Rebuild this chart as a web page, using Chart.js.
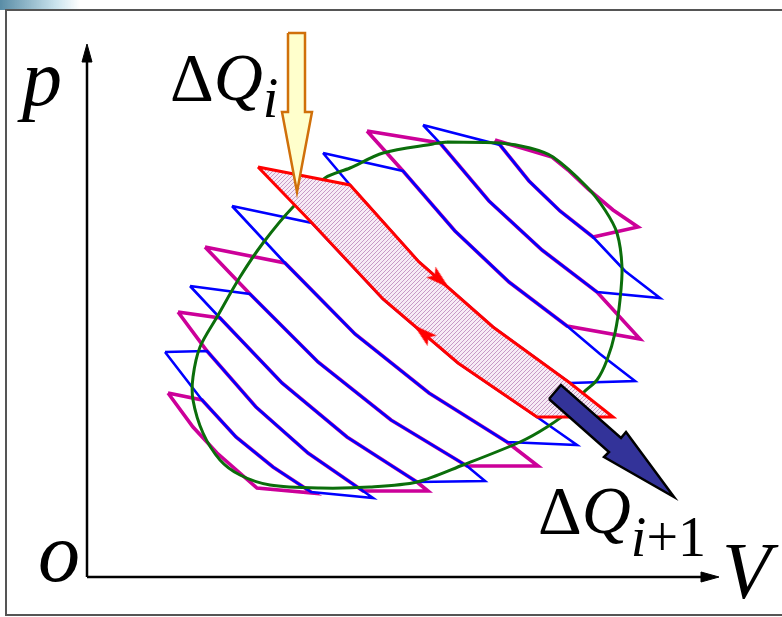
<!DOCTYPE html>
<html>
<head>
<meta charset="utf-8">
<script src="https://cdn.jsdelivr.net/npm/chart.js@4/dist/chart.umd.min.js"></script>
<style>
  body { margin: 0; background: #fff; }
  #wrap { position: relative; width: 782px; height: 617px; overflow: hidden; }
  #frame { position: absolute; left: 5px; top: 9px; width: 800px; height: 603px; border: 2px solid #555; pointer-events: none; }
  #swoosh { position: absolute; left: 0; top: 0; width: 80px; height: 10px;
    background: linear-gradient(90deg, rgba(60,120,150,0.85), rgba(150,200,220,0.5) 70%, rgba(255,255,255,0)); }
  canvas { position: absolute; left: 0; top: 0; }
</style>
</head>
<body>
<div id="wrap">
  <canvas id="myChart" width="782" height="617"></canvas>
  <div id="swoosh"></div>
  <div id="frame"></div>
</div>
<script>
// V is measured from the origin to the right, p upwards (same units as the drawing)

// closed cycle (green)
let cycle = [
  [360,435],[413,434],[443,429],[466,420],[500,390],[518,367],[530,344],[535,310],
  [533,277],[528,244],[520,217],[510,197],[496,184],[483,167],[460,150],[433,135],
  [376,112],[330,95],[283,90],[233,89],[183,92],[153,102],[133,117],[116,144],
  [106,177],[106,200],[113,230],[130,260],[153,300],[176,334],[206,370],[238,399],
  [263,409],[296,424],[346,433],[360,435]
]

// adiabats, each from its upper end down to its lower end
let adiabats = [
  [[81,184],[106,150],[130,124],[170,89]],
  [[78,225],[115,177],[149,140],[186,110],[224,85],[226,84]],
  [[91,265],[120,226],[169,170],[221,124],[276,86],[286,79]],
  [[103,291],[133,259],[195,194],[260,140],[330,95],[341,86]],
  [[118,330],[163,283],[231,215],[304,157],[380,111],[398,96]],
  [[145,371],[198,314],[268,243],[342,184],[420,135],[451,111]],
  [[171,410],[225,354],[296,278],[371,214],[450,160],[490,132]],
  [[236,424],[263,392],[332,315],[406,250],[483,194],[526,160]],
  [[280,446],[316,406],[368,346],[422,295],[480,251],[513,223],[548,196]],
  [[336,452],[353,434],[402,376],[455,327],[510,285],[553,238]],
  [[408,437],[413,432],[442,396],[473,366],[506,340],[538,306],[573,279]],
  [[465,420],[481,407],[501,388],[526,367],[551,350]]
]
// where the upper isotherm of the strip below ends on each adiabat
let upperMeet = [null,1,1,1,1,1,1,1,1,1,1,0]
// where the strip's own lower isotherm leaves each adiabat
let lowerStart = [3,4,4,4,4,4,4,4,4,4,4,null]

// small Carnot cycles, from lower left to upper right
let stripColors = ['#cc0099','#0000ff','#cc0099','#0000ff','#cc0099','#0000ff','#ff0000','#0000ff','#cc0099','#0000ff','#cc0099']
let chosenStrip = 6

// direction arrows on the chosen cycle [V, p, angle]
let cycleArrows = [[353,297,131],[336,244,-49.5]]

// heat arrows
let heatIn = [[201,544],[218,544],[218,465],[225,465],[210,385],[195,465],[201,465],[201,544]]
let heatOut = [[462,178],[474,192],[534,139],[539,145],[587,80],[517,120],[522,125],[462,178]]

// axes
let yAxisLine = [[0,0],[0,520]]
let xAxisLine = [[0,0],[620,0]]
let yAxisHead = [[-5,515],[0,533],[5,515],[-5,515]]
let xAxisHead = [[614,5],[632,0],[614,-5],[614,5]]

let labels = [
  {at:[-65,472], parts:[{t:'p', it:true, size:80}]},
  {at:[-49,-4], parts:[{t:'o', it:true, size:84}]},
  {at:[635,-21], parts:[{t:'V', it:true, size:80}]},
  {at:[83,477], parts:[{t:'Δ', size:68},{t:'Q', it:true, size:68},{t:'i', it:true, size:56, dy:17}]},
  {at:[451,44], parts:[{t:'Δ', size:68},{t:'Q', it:true, size:68},{t:'i', it:true, size:56, dy:23},{t:'+1', size:56, dy:23}]}
]

let xy = (pts)=> pts.map((p)=>({x:p[0], y:p[1]}))

function hatch(){
  let c = document.createElement('canvas')
  c.width = 4
  c.height = 4
  let g = c.getContext('2d')
  g.fillStyle = '#f7ebf5'
  g.fillRect(0,0,4,4)
  g.strokeStyle = '#c79ac7'
  g.lineWidth = 1
  g.beginPath()
  g.moveTo(-1,5); g.lineTo(5,-1)
  g.moveTo(-1,1); g.lineTo(1,-1)
  g.moveTo(3,5); g.lineTo(5,3)
  g.stroke()
  return g.createPattern(c,'repeat')
}

function arrowHead(){
  let c = document.createElement('canvas')
  c.width = 14
  c.height = 24
  let g = c.getContext('2d')
  g.fillStyle = '#ff0000'
  g.beginPath()
  g.moveTo(7,0); g.lineTo(14,24); g.lineTo(7,19); g.lineTo(0,24)
  g.closePath()
  g.fill()
  return c
}

let datasets = []

for(let k=0;k<stripColors.length;k++){
  let a = adiabats[k]
  let b = adiabats[k+1]
  let pts = [a[0], ...b.slice(upperMeet[k+1]), ...a.slice(0, lowerStart[k]+1).reverse()]
  let color = stripColors[k]
  let ds = {
    data: xy(pts), showLine: true, pointRadius: 0, borderColor: color,
    borderWidth: color == '#0000ff' ? 2.6 : 3.6, fill: false,
    order: color == '#0000ff' ? 4 : 5
  }
  if(k == chosenStrip){
    ds.fill = 'shape'
    ds.backgroundColor = hatch()
    ds.borderWidth = 3
    ds.order = 2
  }
  datasets.push(ds)
}

datasets.push({data: xy(cycle), showLine: true, pointRadius: 0, borderColor: '#0b6e0b', borderWidth: 3, tension: 0.3, order: 3})

datasets.push({data: xy(cycleArrows), showLine: false, pointStyle: arrowHead(), pointRadius: 10,
  pointRotation: cycleArrows.map((a)=>a[2]), order: 1})

datasets.push({data: xy(heatIn), showLine: true, pointRadius: 0, borderColor: '#d0700a', borderWidth: 2.5,
  backgroundColor: '#ffffcc', fill: 'shape', order: 0, borderJoinStyle: 'miter'})
datasets.push({data: xy(heatOut), showLine: true, pointRadius: 0, borderColor: '#000', borderWidth: 2.5,
  backgroundColor: '#333399', fill: 'shape', order: 0, borderJoinStyle: 'miter'})

for(let line of [yAxisLine, xAxisLine]){
  datasets.push({data: xy(line), showLine: true, pointRadius: 0, borderColor: '#000', borderWidth: 2.5, order: 6})
}
for(let head of [yAxisHead, xAxisHead]){
  datasets.push({data: xy(head), showLine: true, pointRadius: 0, borderColor: '#000', borderWidth: 1,
    backgroundColor: '#000', fill: 'shape', order: 6})
}

const labelPlugin = {
  id: 'labels',
  afterDatasetsDraw(chart){
    let ctx = chart.ctx
    let sx = chart.scales.x
    let sy = chart.scales.y
    ctx.save()
    ctx.fillStyle = '#000'
    ctx.textBaseline = 'alphabetic'
    for(let lab of labels){
      let px = sx.getPixelForValue(lab.at[0])
      let py = sy.getPixelForValue(lab.at[1])
      for(let part of lab.parts){
        ctx.font = (part.it ? 'italic ' : '') + part.size + 'px "Liberation Serif", "DejaVu Serif", serif'
        ctx.fillText(part.t, px, py + (part.dy || 0))
        px += ctx.measureText(part.t).width
      }
    }
    ctx.restore()
  }
}

function chart(){
  const ctx = document.getElementById('myChart')
  new Chart(ctx, {
    type: 'scatter',
    data: {datasets: datasets},
    options: {
      animation: false,
      responsive: false,
      devicePixelRatio: 1,
      events: [],
      layout: {padding: 0, autoPadding: false},
      plugins: {legend: {display: false}, tooltip: {enabled: false}},
      scales: {
        x: {type: 'linear', min: -87, max: 695, display: false},
        y: {type: 'linear', min: -40, max: 577, display: false}
      }
    },
    plugins: [labelPlugin]
  })
}
chart()
</script>
</body>
</html>
